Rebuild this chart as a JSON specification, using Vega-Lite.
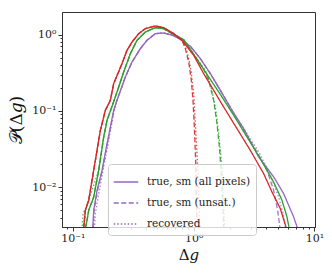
{
  "$schema": "https://vega.github.io/schema/vega-lite/v6.json",
  "width": 253,
  "height": 215,
  "autosize": {"type": "none"},
  "padding": {"left": 62, "top": 12, "right": 17, "bottom": 50},
  "config": {
    "view": {"stroke": "#333333", "strokeWidth": 1},
    "axis": {"domainColor": "#333333", "tickColor": "#333333", "labelFont": "DejaVu Serif", "labelFontSize": 11, "labelColor": "#222222", "titleFont": "DejaVu Serif", "titleFontWeight": "normal", "titleColor": "#111111", "grid": false, "labelOverlap": false, "labelFlush": false}
  },
  "datasets": {
    "curves": [
      {"s":"purple","k":"true, sm (all pixels)","x":0.146,"y":0.0029},
      {"s":"purple","k":"true, sm (all pixels)","x":0.1488,"y":0.005},
      {"s":"purple","k":"true, sm (all pixels)","x":0.1585,"y":0.00913},
      {"s":"purple","k":"true, sm (all pixels)","x":0.1743,"y":0.0167},
      {"s":"purple","k":"true, sm (all pixels)","x":0.1918,"y":0.0373},
      {"s":"purple","k":"true, sm (all pixels)","x":0.2177,"y":0.102},
      {"s":"purple","k":"true, sm (all pixels)","x":0.232,"y":0.1379},
      {"s":"purple","k":"true, sm (all pixels)","x":0.2719,"y":0.2788},
      {"s":"purple","k":"true, sm (all pixels)","x":0.3088,"y":0.4385},
      {"s":"purple","k":"true, sm (all pixels)","x":0.3619,"y":0.6556},
      {"s":"purple","k":"true, sm (all pixels)","x":0.411,"y":0.843},
      {"s":"purple","k":"true, sm (all pixels)","x":0.4818,"y":1.031},
      {"s":"purple","k":"true, sm (all pixels)","x":0.5645,"y":1.052},
      {"s":"purple","k":"true, sm (all pixels)","x":0.683,"y":0.97},
      {"s":"purple","k":"true, sm (all pixels)","x":0.8007,"y":0.843},
      {"s":"purple","k":"true, sm (all pixels)","x":0.9385,"y":0.7034},
      {"s":"purple","k":"true, sm (all pixels)","x":1.1355,"y":0.4849},
      {"s":"purple","k":"true, sm (all pixels)","x":1.3738,"y":0.3083},
      {"s":"purple","k":"true, sm (all pixels)","x":1.6626,"y":0.1866},
      {"s":"purple","k":"true, sm (all pixels)","x":2.0756,"y":0.102},
      {"s":"purple","k":"true, sm (all pixels)","x":2.593,"y":0.0587},
      {"s":"purple","k":"true, sm (all pixels)","x":3.451,"y":0.025},
      {"s":"purple","k":"true, sm (all pixels)","x":4.593,"y":0.0137},
      {"s":"purple","k":"true, sm (all pixels)","x":5.557,"y":0.00826},
      {"s":"purple","k":"true, sm (all pixels)","x":6.722,"y":0.00409},
      {"s":"purple","k":"true, sm (all pixels)","x":7.3,"y":0.0028},

      {"s":"purple","k":"true, sm (unsat.)","x":0.1475,"y":0.0029},
      {"s":"purple","k":"true, sm (unsat.)","x":0.15,"y":0.005},
      {"s":"purple","k":"true, sm (unsat.)","x":0.16,"y":0.00913},
      {"s":"purple","k":"true, sm (unsat.)","x":0.1755,"y":0.0167},
      {"s":"purple","k":"true, sm (unsat.)","x":0.193,"y":0.0373},
      {"s":"purple","k":"true, sm (unsat.)","x":0.2185,"y":0.102},
      {"s":"purple","k":"true, sm (unsat.)","x":0.232,"y":0.1379},
      {"s":"purple","k":"true, sm (unsat.)","x":0.2719,"y":0.2788},
      {"s":"purple","k":"true, sm (unsat.)","x":0.3088,"y":0.4385},
      {"s":"purple","k":"true, sm (unsat.)","x":0.3619,"y":0.6556},
      {"s":"purple","k":"true, sm (unsat.)","x":0.411,"y":0.843},
      {"s":"purple","k":"true, sm (unsat.)","x":0.4818,"y":1.031},
      {"s":"purple","k":"true, sm (unsat.)","x":0.5645,"y":1.052},
      {"s":"purple","k":"true, sm (unsat.)","x":0.683,"y":0.97},
      {"s":"purple","k":"true, sm (unsat.)","x":0.8007,"y":0.843},
      {"s":"purple","k":"true, sm (unsat.)","x":0.9385,"y":0.7034},
      {"s":"purple","k":"true, sm (unsat.)","x":1.1355,"y":0.4849},
      {"s":"purple","k":"true, sm (unsat.)","x":1.3738,"y":0.3083},
      {"s":"purple","k":"true, sm (unsat.)","x":1.6626,"y":0.1866},
      {"s":"purple","k":"true, sm (unsat.)","x":2.0756,"y":0.102},
      {"s":"purple","k":"true, sm (unsat.)","x":2.593,"y":0.0558},
      {"s":"purple","k":"true, sm (unsat.)","x":3.343,"y":0.029},
      {"s":"purple","k":"true, sm (unsat.)","x":4.045,"y":0.0167},
      {"s":"purple","k":"true, sm (unsat.)","x":4.593,"y":0.00913},
      {"s":"purple","k":"true, sm (unsat.)","x":4.957,"y":0.005},
      {"s":"purple","k":"true, sm (unsat.)","x":5.2,"y":0.0028},

      {"s":"purple","k":"recovered","x":0.1506,"y":0.0029},
      {"s":"purple","k":"recovered","x":0.1536,"y":0.00452},
      {"s":"purple","k":"recovered","x":0.1636,"y":0.00826},
      {"s":"purple","k":"recovered","x":0.1799,"y":0.0185},
      {"s":"purple","k":"recovered","x":0.196,"y":0.0373},
      {"s":"purple","k":"recovered","x":0.22,"y":0.102},
      {"s":"purple","k":"recovered","x":0.232,"y":0.1379},
      {"s":"purple","k":"recovered","x":0.2719,"y":0.2788},
      {"s":"purple","k":"recovered","x":0.3088,"y":0.4385},
      {"s":"purple","k":"recovered","x":0.3619,"y":0.6556},
      {"s":"purple","k":"recovered","x":0.411,"y":0.843},
      {"s":"purple","k":"recovered","x":0.4818,"y":1.031},
      {"s":"purple","k":"recovered","x":0.5645,"y":1.052},
      {"s":"purple","k":"recovered","x":0.683,"y":0.97},
      {"s":"purple","k":"recovered","x":0.8007,"y":0.843},
      {"s":"purple","k":"recovered","x":0.9385,"y":0.7034},
      {"s":"purple","k":"recovered","x":1.1355,"y":0.4849},
      {"s":"purple","k":"recovered","x":1.3738,"y":0.3083},
      {"s":"purple","k":"recovered","x":1.6626,"y":0.1866},
      {"s":"purple","k":"recovered","x":2.0756,"y":0.102},
      {"s":"purple","k":"recovered","x":2.677,"y":0.055},
      {"s":"purple","k":"recovered","x":3.517,"y":0.0276},
      {"s":"purple","k":"recovered","x":4.31,"y":0.0144},
      {"s":"purple","k":"recovered","x":5.05,"y":0.00747},
      {"s":"purple","k":"recovered","x":5.487,"y":0.00452},
      {"s":"purple","k":"recovered","x":5.8,"y":0.0028},

      {"s":"green","k":"true, sm (all pixels)","x":0.1269,"y":0.0029},
      {"s":"green","k":"true, sm (all pixels)","x":0.131,"y":0.0037},
      {"s":"green","k":"true, sm (all pixels)","x":0.1352,"y":0.005},
      {"s":"green","k":"true, sm (all pixels)","x":0.1488,"y":0.00747},
      {"s":"green","k":"true, sm (all pixels)","x":0.1636,"y":0.0167},
      {"s":"green","k":"true, sm (all pixels)","x":0.1799,"y":0.0456},
      {"s":"green","k":"true, sm (all pixels)","x":0.1918,"y":0.0754},
      {"s":"green","k":"true, sm (all pixels)","x":0.2247,"y":0.1526},
      {"s":"green","k":"true, sm (all pixels)","x":0.2634,"y":0.3243},
      {"s":"green","k":"true, sm (all pixels)","x":0.2992,"y":0.5637},
      {"s":"green","k":"true, sm (all pixels)","x":0.3396,"y":0.843},
      {"s":"green","k":"true, sm (all pixels)","x":0.3981,"y":1.084},
      {"s":"green","k":"true, sm (all pixels)","x":0.4818,"y":1.235},
      {"s":"green","k":"true, sm (all pixels)","x":0.5645,"y":1.198},
      {"s":"green","k":"true, sm (all pixels)","x":0.683,"y":1.01},
      {"s":"green","k":"true, sm (all pixels)","x":0.8264,"y":0.86},
      {"s":"green","k":"true, sm (all pixels)","x":1.0,"y":0.5524},
      {"s":"green","k":"true, sm (all pixels)","x":1.2892,"y":0.302},
      {"s":"green","k":"true, sm (all pixels)","x":1.6626,"y":0.165},
      {"s":"green","k":"true, sm (all pixels)","x":2.1429,"y":0.0877},
      {"s":"green","k":"true, sm (all pixels)","x":2.7631,"y":0.0456},
      {"s":"green","k":"true, sm (all pixels)","x":3.5623,"y":0.0237},
      {"s":"green","k":"true, sm (all pixels)","x":4.593,"y":0.0117},
      {"s":"green","k":"true, sm (all pixels)","x":5.383,"y":0.00676},
      {"s":"green","k":"true, sm (all pixels)","x":5.9216,"y":0.00409},
      {"s":"green","k":"true, sm (all pixels)","x":6.2,"y":0.0028},

      {"s":"green","k":"true, sm (unsat.)","x":0.1269,"y":0.0029},
      {"s":"green","k":"true, sm (unsat.)","x":0.131,"y":0.0037},
      {"s":"green","k":"true, sm (unsat.)","x":0.1352,"y":0.005},
      {"s":"green","k":"true, sm (unsat.)","x":0.1488,"y":0.00747},
      {"s":"green","k":"true, sm (unsat.)","x":0.1636,"y":0.0167},
      {"s":"green","k":"true, sm (unsat.)","x":0.1799,"y":0.0456},
      {"s":"green","k":"true, sm (unsat.)","x":0.1918,"y":0.0754},
      {"s":"green","k":"true, sm (unsat.)","x":0.2247,"y":0.1526},
      {"s":"green","k":"true, sm (unsat.)","x":0.2634,"y":0.3243},
      {"s":"green","k":"true, sm (unsat.)","x":0.2992,"y":0.5637},
      {"s":"green","k":"true, sm (unsat.)","x":0.3396,"y":0.843},
      {"s":"green","k":"true, sm (unsat.)","x":0.3981,"y":1.084},
      {"s":"green","k":"true, sm (unsat.)","x":0.4818,"y":1.235},
      {"s":"green","k":"true, sm (unsat.)","x":0.5645,"y":1.198},
      {"s":"green","k":"true, sm (unsat.)","x":0.683,"y":1.01},
      {"s":"green","k":"true, sm (unsat.)","x":0.8264,"y":0.86},
      {"s":"green","k":"true, sm (unsat.)","x":1.0,"y":0.5524},
      {"s":"green","k":"true, sm (unsat.)","x":1.21,"y":0.351},
      {"s":"green","k":"true, sm (unsat.)","x":1.331,"y":0.2522},
      {"s":"green","k":"true, sm (unsat.)","x":1.464,"y":0.1379},
      {"s":"green","k":"true, sm (unsat.)","x":1.5604,"y":0.0682},
      {"s":"green","k":"true, sm (unsat.)","x":1.6416,"y":0.0305},
      {"s":"green","k":"true, sm (unsat.)","x":1.6943,"y":0.0137},
      {"s":"green","k":"true, sm (unsat.)","x":1.7378,"y":0.00676},
      {"s":"green","k":"true, sm (unsat.)","x":1.775,"y":0.0028},

      {"s":"green","k":"recovered","x":0.1191,"y":0.0028},
      {"s":"green","k":"recovered","x":0.1214,"y":0.00452},
      {"s":"green","k":"recovered","x":0.1269,"y":0.00525},
      {"s":"green","k":"recovered","x":0.1352,"y":0.00676},
      {"s":"green","k":"recovered","x":0.1636,"y":0.0167},
      {"s":"green","k":"recovered","x":0.1799,"y":0.0456},
      {"s":"green","k":"recovered","x":0.1918,"y":0.0754},
      {"s":"green","k":"recovered","x":0.2247,"y":0.1526},
      {"s":"green","k":"recovered","x":0.2634,"y":0.3243},
      {"s":"green","k":"recovered","x":0.2992,"y":0.5637},
      {"s":"green","k":"recovered","x":0.3396,"y":0.843},
      {"s":"green","k":"recovered","x":0.3981,"y":1.084},
      {"s":"green","k":"recovered","x":0.4818,"y":1.235},
      {"s":"green","k":"recovered","x":0.5645,"y":1.198},
      {"s":"green","k":"recovered","x":0.683,"y":1.01},
      {"s":"green","k":"recovered","x":0.8264,"y":0.86},
      {"s":"green","k":"recovered","x":1.0,"y":0.5524},
      {"s":"green","k":"recovered","x":1.249,"y":0.341},
      {"s":"green","k":"recovered","x":1.3738,"y":0.2281},
      {"s":"green","k":"recovered","x":1.5111,"y":0.1128},
      {"s":"green","k":"recovered","x":1.6106,"y":0.0505},
      {"s":"green","k":"recovered","x":1.6943,"y":0.0226},
      {"s":"green","k":"recovered","x":1.7489,"y":0.0101},
      {"s":"green","k":"recovered","x":1.81,"y":0.0028},

      {"s":"red","k":"true, sm (all pixels)","x":0.1229,"y":0.0029},
      {"s":"red","k":"true, sm (all pixels)","x":0.1269,"y":0.005},
      {"s":"red","k":"true, sm (all pixels)","x":0.1352,"y":0.00676},
      {"s":"red","k":"true, sm (all pixels)","x":0.1441,"y":0.0124},
      {"s":"red","k":"true, sm (all pixels)","x":0.1536,"y":0.0226},
      {"s":"red","k":"true, sm (all pixels)","x":0.1689,"y":0.0558},
      {"s":"red","k":"true, sm (all pixels)","x":0.1858,"y":0.102},
      {"s":"red","k":"true, sm (all pixels)","x":0.2043,"y":0.1379},
      {"s":"red","k":"true, sm (all pixels)","x":0.2177,"y":0.2281},
      {"s":"red","k":"true, sm (all pixels)","x":0.2551,"y":0.417},
      {"s":"red","k":"true, sm (all pixels)","x":0.2807,"y":0.6233},
      {"s":"red","k":"true, sm (all pixels)","x":0.3088,"y":0.801},
      {"s":"red","k":"true, sm (all pixels)","x":0.3506,"y":1.031},
      {"s":"red","k":"true, sm (all pixels)","x":0.3981,"y":1.198},
      {"s":"red","k":"true, sm (all pixels)","x":0.4818,"y":1.299},
      {"s":"red","k":"true, sm (all pixels)","x":0.5645,"y":1.235},
      {"s":"red","k":"true, sm (all pixels)","x":0.683,"y":1.031},
      {"s":"red","k":"true, sm (all pixels)","x":0.8007,"y":0.843},
      {"s":"red","k":"true, sm (all pixels)","x":1.0,"y":0.5362},
      {"s":"red","k":"true, sm (all pixels)","x":1.21,"y":0.3083},
      {"s":"red","k":"true, sm (all pixels)","x":1.464,"y":0.1866},
      {"s":"red","k":"true, sm (all pixels)","x":1.771,"y":0.1128},
      {"s":"red","k":"true, sm (all pixels)","x":2.284,"y":0.0587},
      {"s":"red","k":"true, sm (all pixels)","x":2.944,"y":0.0305},
      {"s":"red","k":"true, sm (all pixels)","x":3.796,"y":0.0151},
      {"s":"red","k":"true, sm (all pixels)","x":4.45,"y":0.00869},
      {"s":"red","k":"true, sm (all pixels)","x":5.215,"y":0.00525},
      {"s":"red","k":"true, sm (all pixels)","x":5.9,"y":0.0028},

      {"s":"red","k":"true, sm (unsat.)","x":0.1229,"y":0.0029},
      {"s":"red","k":"true, sm (unsat.)","x":0.1269,"y":0.005},
      {"s":"red","k":"true, sm (unsat.)","x":0.1352,"y":0.00676},
      {"s":"red","k":"true, sm (unsat.)","x":0.1441,"y":0.0124},
      {"s":"red","k":"true, sm (unsat.)","x":0.1536,"y":0.0226},
      {"s":"red","k":"true, sm (unsat.)","x":0.1689,"y":0.0558},
      {"s":"red","k":"true, sm (unsat.)","x":0.1858,"y":0.102},
      {"s":"red","k":"true, sm (unsat.)","x":0.2043,"y":0.1379},
      {"s":"red","k":"true, sm (unsat.)","x":0.2177,"y":0.2281},
      {"s":"red","k":"true, sm (unsat.)","x":0.2551,"y":0.417},
      {"s":"red","k":"true, sm (unsat.)","x":0.2807,"y":0.6233},
      {"s":"red","k":"true, sm (unsat.)","x":0.3088,"y":0.801},
      {"s":"red","k":"true, sm (unsat.)","x":0.3506,"y":1.031},
      {"s":"red","k":"true, sm (unsat.)","x":0.3981,"y":1.198},
      {"s":"red","k":"true, sm (unsat.)","x":0.4818,"y":1.299},
      {"s":"red","k":"true, sm (unsat.)","x":0.5645,"y":1.235},
      {"s":"red","k":"true, sm (unsat.)","x":0.683,"y":1.031},
      {"s":"red","k":"true, sm (unsat.)","x":0.8007,"y":0.843},
      {"s":"red","k":"true, sm (unsat.)","x":0.8531,"y":0.6556},
      {"s":"red","k":"true, sm (unsat.)","x":0.9091,"y":0.4385},
      {"s":"red","k":"true, sm (unsat.)","x":0.9565,"y":0.2522},
      {"s":"red","k":"true, sm (unsat.)","x":0.9874,"y":0.1379},
      {"s":"red","k":"true, sm (unsat.)","x":1.0128,"y":0.0617},
      {"s":"red","k":"true, sm (unsat.)","x":1.0389,"y":0.0226},
      {"s":"red","k":"true, sm (unsat.)","x":1.0521,"y":0.00826},
      {"s":"red","k":"true, sm (unsat.)","x":1.068,"y":0.0028},

      {"s":"red","k":"recovered","x":0.1229,"y":0.0029},
      {"s":"red","k":"recovered","x":0.1269,"y":0.005},
      {"s":"red","k":"recovered","x":0.1352,"y":0.00676},
      {"s":"red","k":"recovered","x":0.1441,"y":0.0124},
      {"s":"red","k":"recovered","x":0.1536,"y":0.0226},
      {"s":"red","k":"recovered","x":0.1689,"y":0.0558},
      {"s":"red","k":"recovered","x":0.1858,"y":0.102},
      {"s":"red","k":"recovered","x":0.2043,"y":0.1379},
      {"s":"red","k":"recovered","x":0.2177,"y":0.2281},
      {"s":"red","k":"recovered","x":0.2551,"y":0.417},
      {"s":"red","k":"recovered","x":0.2807,"y":0.6233},
      {"s":"red","k":"recovered","x":0.3088,"y":0.801},
      {"s":"red","k":"recovered","x":0.3506,"y":1.031},
      {"s":"red","k":"recovered","x":0.3981,"y":1.198},
      {"s":"red","k":"recovered","x":0.4818,"y":1.299},
      {"s":"red","k":"recovered","x":0.5645,"y":1.235},
      {"s":"red","k":"recovered","x":0.683,"y":1.031},
      {"s":"red","k":"recovered","x":0.8264,"y":0.801},
      {"s":"red","k":"recovered","x":0.8919,"y":0.5637},
      {"s":"red","k":"recovered","x":0.9504,"y":0.341},
      {"s":"red","k":"recovered","x":1.0,"y":0.1687},
      {"s":"red","k":"recovered","x":1.0323,"y":0.0682},
      {"s":"red","k":"recovered","x":1.0656,"y":0.0276},
      {"s":"red","k":"recovered","x":1.1001,"y":0.0101},
      {"s":"red","k":"recovered","x":1.125,"y":0.0028}
    ]
  },
  "data": {"name": "curves"},
  "mark": {"type": "line", "clip": true, "strokeWidth": 1.3},
  "encoding": {
    "x": {
      "field": "x", "type": "quantitative",
      "scale": {"type": "log", "domain": [0.0813, 10.1], "nice": false},
      "axis": {
        "title": "Δ𝑔", "titleFontSize": 15, "titlePadding": 4, "labelPadding": 1,
        "values": [0.09,0.1,0.2,0.3,0.4,0.5,0.6,0.7,0.8,0.9,1,2,3,4,5,6,7,8,9,10],
        "labelExpr": "datum.value == 0.1 ? '10⁻¹' : datum.value == 1 ? '10⁰' : datum.value == 10 ? '10¹' : ''",
        "tickSize": {"condition": {"test": "datum.value == 0.1 || datum.value == 1 || datum.value == 10", "value": 4}, "value": 2}
      }
    },
    "y": {
      "field": "y", "type": "quantitative",
      "scale": {"type": "log", "domain": [0.00302, 1.98], "nice": false},
      "axis": {
        "title": "𝒫(Δ𝑔)", "titleFontSize": 17, "titlePadding": 6, "labelPadding": 2,
        "values": [0.003,0.004,0.005,0.006,0.007,0.008,0.009,0.01,0.02,0.03,0.04,0.05,0.06,0.07,0.08,0.09,0.1,0.2,0.3,0.4,0.5,0.6,0.7,0.8,0.9,1],
        "labelExpr": "datum.value == 0.01 ? '10⁻²' : datum.value == 0.1 ? '10⁻¹' : datum.value == 1 ? '10⁰' : ''",
        "tickSize": {"condition": {"test": "datum.value == 0.01 || datum.value == 0.1 || datum.value == 1", "value": 4}, "value": 2}
      }
    },
    "color": {
      "field": "s", "type": "nominal",
      "scale": {"domain": ["purple", "green", "red"], "range": ["#9467bd", "#2ca02c", "#d62728"]},
      "legend": null
    },
    "strokeDash": {
      "field": "k", "type": "nominal",
      "scale": {"domain": ["true, sm (all pixels)", "true, sm (unsat.)", "recovered"], "range": [[1, 0], [5, 2.5], [1.5, 2]]},
      "legend": {
        "title": null, "orient": "none", "legendX": 46, "legendY": 152,
        "symbolType": "stroke", "symbolStrokeColor": "#9467bd", "symbolStrokeWidth": 1.3, "symbolSize": 600,
        "labelFont": "DejaVu Serif", "labelFontSize": 10.5, "labelColor": "#222222", "labelOffset": 8,
        "fillColor": "rgba(255,255,255,0.8)", "strokeColor": "#cccccc", "cornerRadius": 3, "padding": 5, "rowPadding": 2
      }
    },
    "strokeOpacity": {
      "field": "k", "type": "nominal",
      "scale": {"domain": ["true, sm (all pixels)", "true, sm (unsat.)", "recovered"], "range": [1, 0.8, 0.8]},
      "legend": null
    }
  }
}
